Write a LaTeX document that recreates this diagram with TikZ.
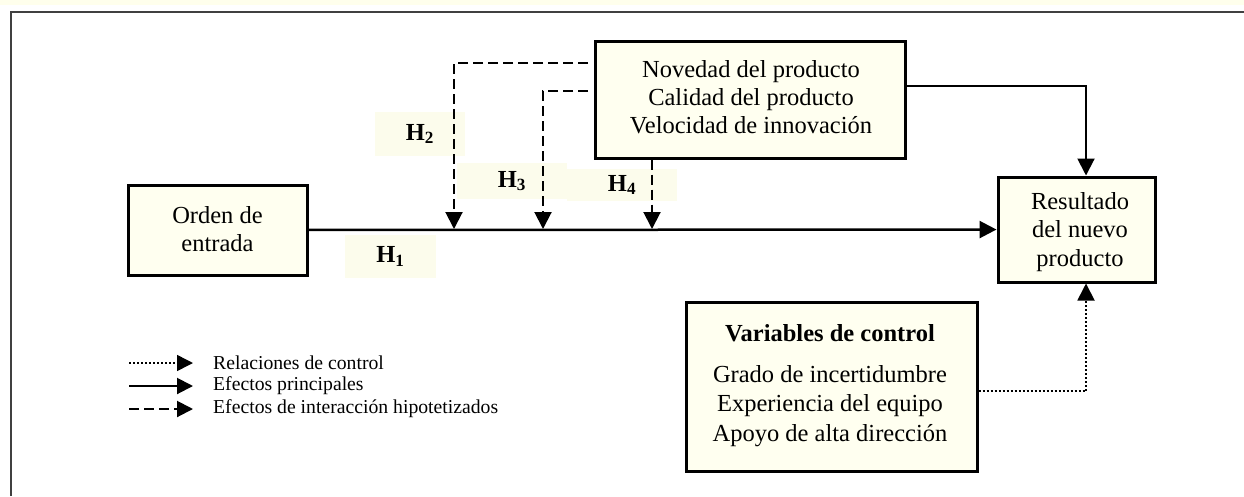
\documentclass[tikz,border=0pt]{standalone}
\usepackage{fontspec}
\setmainfont{Liberation Serif}
\usetikzlibrary{arrows.meta}
\definecolor{boxfill}{HTML}{FFFFF0}
\definecolor{labfill}{HTML}{FCFCEC}
\definecolor{stripfill}{HTML}{FFFFEC}
\definecolor{framegray}{HTML}{404040}
\begin{document}
\begin{tikzpicture}[x=1pt,y=-1pt,
  box/.style={draw=black,line width=3pt,fill=boxfill,inner sep=0pt},
  txt/.style={align=center,inner sep=0pt},
  hlab/.style={fill=labfill,inner sep=0pt,font=\fontsize{24.5}{24.5}\selectfont\bfseries},
  conn/.style={line width=2pt},
  bigtip/.style={-{Triangle[length=17pt,width=17pt]}},
  smalltip/.style={-{Triangle[length=16pt,width=16pt]}},
  dashline/.style={dash pattern=on 10pt off 5pt},
  dotline/.style={line width=1.8pt,dash pattern=on 2pt off 2pt},
  legtext/.style={anchor=west,inner sep=0pt,font=\fontsize{19.7}{20}\selectfont}
]
\useasboundingbox (0,0) rectangle (1244,496);
% top strip and frame
\fill[stripfill] (0,0) rectangle (1244,4.5);
\draw[framegray,line width=2pt] (10.5,496) -- (10.5,11.5) -- (1244,11.5);

% H label backgrounds
\node[hlab,minimum width=90pt,minimum height=44pt] (h2) at (420,134) {H\textsubscript{2}};
\node[hlab,minimum width=110pt,minimum height=36pt] (h3) at (512,181) {H\textsubscript{3}};
\node[hlab,minimum width=110pt,minimum height=32pt] (h4) at (622,185) {H\textsubscript{4}};
\node[hlab,minimum width=91pt,minimum height=43pt] (h1) at (390.5,256.5) {H\textsubscript{1}};

% boxes
\node[box,minimum width=179pt,minimum height=90pt] (orden) at (217.5,230) {};
\node[txt,font=\fontsize{24.5}{28}\selectfont] (ordent) at (217.5,229) {Orden de\\entrada};

\node[box,minimum width=310pt,minimum height=117pt] (nov) at (750,99.5) {};
\node[txt,font=\fontsize{24.5}{28}\selectfont] (novt) at (751,97) {Novedad del producto\\Calidad del producto\\Velocidad de innovación};

\node[box,minimum width=157pt,minimum height=105pt] (res) at (1076.5,229.5) {};
\node[txt,font=\fontsize{24.5}{28.5}\selectfont] (rest) at (1080,232) {Resultado\\del nuevo\\producto};

\node[box,minimum width=291pt,minimum height=169pt] (var) at (831.5,386.5) {};
\node[txt,anchor=base,font=\fontsize{24.5}{24.5}\selectfont\bfseries] (vart) at (830,341) {Variables de control};
\node[txt,font=\fontsize{24.5}{29.5}\selectfont] (varl) at (830,406) {Grado de incertidumbre\\Experiencia del equipo\\Apoyo de alta dirección};

% coordinates
\coordinate (s2) at (588,63);
\coordinate (j2) at (454,229);
\coordinate (s3) at (588,91);
\coordinate (j3) at (543,229);
\coordinate (j4) at (652,229);
\coordinate (k) at (1086,0);

% connectors
\draw[conn,line width=2.5pt,bigtip] (orden) -- (res);
\draw[conn,dashline,bigtip] (s2) -| (j2);
\draw[conn,dashline,bigtip] (s3) -| (j3);
\draw[conn,dashline,bigtip] (j4 |- nov.south) -- (j4);
\draw[conn,bigtip] (nov.east |- 0,86) -| (k |- res.north);
\draw[dotline,bigtip] (var.east |- 0,391) -| (k |- res.south);

% legend
\coordinate (l1s) at (129,363);
\coordinate (l1e) at (193,363);
\coordinate (l2s) at (129,386);
\coordinate (l2e) at (193,386);
\coordinate (l3s) at (129,409);
\coordinate (l3e) at (193,409);
\draw[dotline,line width=1.5pt,smalltip] (l1s) -- (l1e);
\draw[conn,smalltip] (l2s) -- (l2e);
\draw[conn,dashline,smalltip] (l3s) -- (l3e);
\node[legtext] (lt1) at (213,363) {Relaciones de control};
\node[legtext] (lt2) at (213,386) {Efectos principales};
\node[legtext] (lt3) at (213,409) {Efectos de interacción hipotetizados};
\end{tikzpicture}
\end{document}
